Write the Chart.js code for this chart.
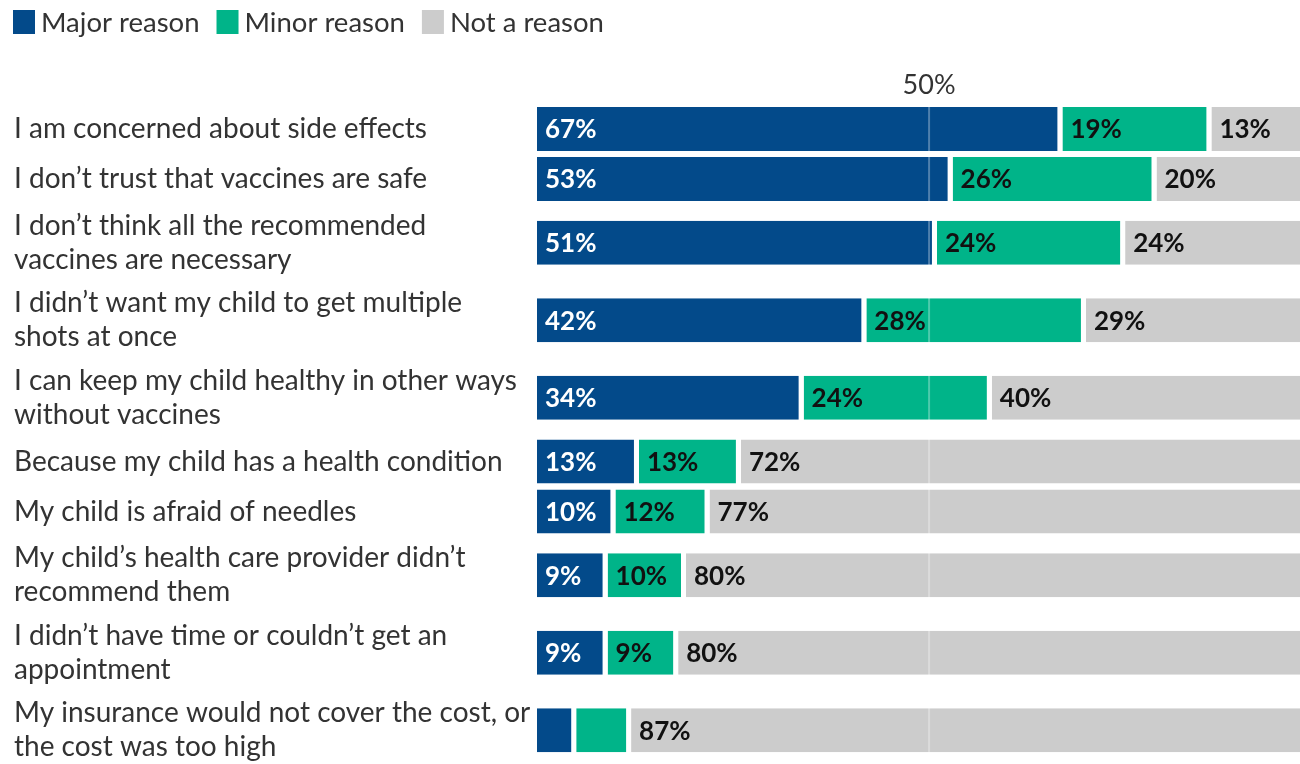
<!DOCTYPE html>
<html><head><meta charset="utf-8">
<script src="https://cdn.jsdelivr.net/npm/chart.js@4"></script>
<style>html,body{margin:0;padding:0;background:#fff;overflow:hidden}#wrap{width:1300px;height:764px;position:relative}</style>
</head><body><div id="wrap"><canvas id="c"></canvas></div>
<script>
const categories = [
  ["I am concerned about side effects"],
  ["I don’t trust that vaccines are safe"],
  ["I don’t think all the recommended", "vaccines are necessary"],
  ["I didn’t want my child to get multiple", "shots at once"],
  ["I can keep my child healthy in other ways", "without vaccines"],
  ["Because my child has a health condition"],
  ["My child is afraid of needles"],
  ["My child’s health care provider didn’t", "recommend them"],
  ["I didn’t have time or couldn’t get an", "appointment"],
  ["My insurance would not cover the cost, or", "the cost was too high"]
];
const majorReason = [67, 53, 51, 42, 34, 13, 10, 9, 9, 5];
const minorReason = [19, 26, 24, 28, 24, 13, 12, 10, 9, 7];
const notAReason  = [13, 20, 24, 29, 40, 72, 77, 80, 80, 87];
const seriesNames = ["Major reason", "Minor reason", "Not a reason"];
const xTickValues = [50];

const COLORS = ["#034a8a", "#00b489", "#cccccc"];
const FONT = "Lato";

// row centres on a linear axis, derived from how many lines each label has
const rowBlock = n => 22.5 + 27.5 * n;
const rowCentres = [];
(function(){ let acc = 0; categories.forEach(c => { const h = rowBlock(c.length); rowCentres.push(acc + h / 2); acc += h; }); })();

const series = [majorReason, minorReason, notAReason];
const datasets = series.map((vals, si) => ({
  label: seriesNames[si],
  data: vals.map((v, i) => ({ x: v, y: rowCentres[i] })),
  backgroundColor: COLORS[si],
  borderColor: "#ffffff",
  borderWidth: { left: 0, top: 0, bottom: 0, right: 5 },
  borderSkipped: false,
  barThickness: 44,
  inflateAmount: 0
}));

const refLine = {
  id: "refLine",
  afterDatasetsDraw(chart) {
    const ctx = chart.ctx, xs = chart.scales.x, a = chart.chartArea;
    ctx.save();
    ctx.strokeStyle = "rgba(255,255,255,0.3)";
    ctx.lineWidth = 2;
    xTickValues.forEach(v => {
      const px = xs.getPixelForValue(v);
      ctx.beginPath();
      ctx.moveTo(px, a.top);
      ctx.lineTo(px, a.bottom);
      ctx.stroke();
    });
    ctx.restore();
  }
};

const valueLabels = {
  id: "valueLabels",
  afterDatasetsDraw(chart) {
    const ctx = chart.ctx;
    ctx.save();
    ctx.textBaseline = "middle";
    ctx.textAlign = "left";
    chart.data.datasets.forEach((ds, di) => {
      const meta = chart.getDatasetMeta(di);
      meta.data.forEach((bar, i) => {
        const v = series[di][i];
        if (v < 8) return;
        ctx.font = "bold 26px " + FONT;
        ctx.fillStyle = di === 0 ? "#ffffff" : "#111111";
        ctx.fillText(v + "%", Math.min(bar.base, bar.x) + 8, bar.y + 1);
      });
    });
    ctx.restore();
  }
};

const topLegend = {
  id: "topLegend",
  afterDraw(chart) {
    const ctx = chart.ctx;
    ctx.save();
    ctx.font = "27.5px " + FONT;
    ctx.textBaseline = "middle";
    ctx.textAlign = "left";
    let x = 13;
    seriesNames.forEach((n, i) => {
      ctx.fillStyle = COLORS[i];
      ctx.fillRect(x, 10, 22, 24);
      x += 28;
      ctx.fillStyle = "#333333";
      ctx.fillText(n, x, 23);
      x += ctx.measureText(n).width + 17;
    });
    ctx.restore();
  }
};

new Chart(document.getElementById("c"), {
  type: "bar",
  data: { datasets },
  options: {
    indexAxis: "y",
    responsive: true,
    maintainAspectRatio: false,
    animation: false,
    layout: { padding: { left: 14, right: 0, top: 0, bottom: 0 } },
    plugins: { legend: { display: false }, tooltip: { enabled: false } },
    scales: {
      x: {
        type: "linear",
        position: "top",
        stacked: true,
        min: 0,
        max: 97.3,
        offset: false,
        afterBuildTicks: s => { s.ticks = xTickValues.map(v => ({ value: v })); },
        afterFit: s => { s.height = 104; s.paddingLeft = 0; s.paddingRight = 0; },
        grid: { display: false, drawTicks: false },
        border: { display: false },
        ticks: { callback: v => v + "%", color: "#333333", font: { family: FONT, size: 27 }, padding: 3, maxRotation: 0 }
      },
      y: {
        type: "linear",
        stacked: true,
        reverse: true,
        offset: false,
        min: 0,
        max: 660,
        afterBuildTicks: s => { s.ticks = rowCentres.map(v => ({ value: v })); },
        afterFit: s => { s.width = 523; s.paddingTop = 0; s.paddingBottom = 0; },
        grid: { display: false, offset: false },
        border: { display: false },
        ticks: {
          callback: (v, i) => categories[i],
          crossAlign: "far",
          color: "#333333",
          font: { family: FONT, size: 28, lineHeight: 1.22 },
          padding: 0,
          autoSkip: false
        }
      }
    }
  },
  plugins: [refLine, valueLabels, topLegend]
});
</script>
</body></html>
